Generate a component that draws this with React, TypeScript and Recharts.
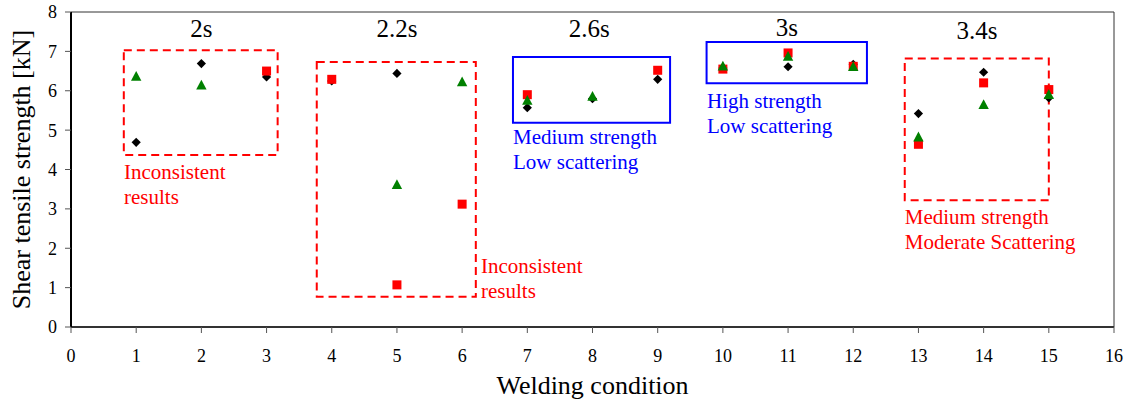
import React from "react"
import {
  ScatterChart,
  Scatter,
  XAxis,
  YAxis,
  ReferenceArea,
  ReferenceDot,
  ReferenceLine,
  Label,
} from "recharts"

document.body.style.margin = "0"

const FONT = "'Liberation Serif', 'Times New Roman', serif"

// welding conditions 1..15, three specimens each (null = not visible / hidden)
const conditions = [1, 2, 3, 4, 5, 6, 7, 8, 9, 10, 11, 12, 13, 14, 15]
const specimenA = [4.69, 6.69, 6.35, 6.25, 6.44, null, 5.57, 5.8, 6.29, 6.58, 6.61, 6.67, 5.42, 6.47, 5.82]
const specimenB = [null, null, 6.5, 6.29, 1.07, 3.12, 5.9, null, 6.52, 6.55, 6.96, 6.62, 4.64, 6.2, 6.03]
const specimenC = [6.35, 6.13, null, null, 3.6, 6.21, 5.74, 5.84, null, 6.61, 6.86, 6.6, 4.81, 5.63, 5.89]

const xTicks = [0, 1, 2, 3, 4, 5, 6, 7, 8, 9, 10, 11, 12, 13, 14, 15, 16]
const yTicks = [0, 1, 2, 3, 4, 5, 6, 7, 8]

// weld time groups written above the points
const groupTitles = ["2s", "2.2s", "2.6s", "3s", "3.4s"]
const groupTitleX = [2, 5, 7.95, 10.98, 13.9]
const groupTitleY = [7.37, 7.37, 7.37, 7.39, 7.31]

// boxes around the groups
const boxX1 = [0.81, 3.77, 6.78, 9.75, 12.79]
const boxX2 = [3.17, 6.21, 9.19, 12.21, 15.0]
const boxY1 = [4.37, 0.77, 5.19, 6.19, 3.22]
const boxY2 = [7.03, 6.73, 6.86, 7.24, 6.82]
const boxColor = ["#ff0000", "#ff0000", "#0000ff", "#0000ff", "#ff0000"]
const boxDashed = [true, true, false, false, true]

// comments next to the boxes
const noteLines = [
  ["Inconsistent", "results"],
  ["Inconsistent", "results"],
  ["Medium strength", "Low scattering"],
  ["High strength", "Low scattering"],
  ["Medium strength", "Moderate Scattering"],
]
const noteX = [0.813, 6.29, 6.78, 9.756, 12.79]
const noteY = [3.75, 1.38, 4.64, 5.555, 2.616]
const noteColor = ["#ff0000", "#ff0000", "#0000ff", "#0000ff", "#ff0000"]

const toPoints = (vals: (number | null)[]) =>
  conditions
    .map((x, i) => ({ x, y: vals[i] }))
    .filter((p) => p.y !== null)

const Diamond = (props: any) => {
  const { cx, cy } = props
  const r = 4.6
  return (
    <polygon
      points={`${cx},${cy - r} ${cx + r},${cy} ${cx},${cy + r} ${cx - r},${cy}`}
      fill="#000000"
    />
  )
}

const Square = (props: any) => {
  const { cx, cy } = props
  return <rect x={cx - 4.5} y={cy - 4.5} width={9} height={9} fill="#ff0000" />
}

const Triangle = (props: any) => {
  const { cx, cy } = props
  return (
    <polygon
      points={`${cx},${cy - 6} ${cx + 5.2},${cy + 3.8} ${cx - 5.2},${cy + 3.8}`}
      fill="#008000"
    />
  )
}

export default function App() {
  return (
    <ScatterChart
      width={1128}
      height={403}
      margin={{ top: 12, right: 14, bottom: 0, left: 0 }}
      style={{ fontFamily: FONT }}
    >
      <XAxis
        type="number"
        dataKey="x"
        domain={[0, 16]}
        ticks={xTicks}
        interval={0}
        height={76}
        tickSize={6}
        tickMargin={16}
        axisLine={{ stroke: "#333", strokeWidth: 2 }}
        tickLine={{ stroke: "#555" }}
        tick={{ fontSize: 18, fill: "#000", fontFamily: FONT }}
      >
        <Label
          content={(p: any) => {
            const vb = p.viewBox
            return (
              <text
                x={vb.x + vb.width / 2}
                y={vb.y + vb.height - 9}
                textAnchor="middle"
                fontSize={26}
                fontFamily={FONT}
                fill="#000"
              >
                Welding condition
              </text>
            )
          }}
        />
      </XAxis>
      <YAxis
        type="number"
        dataKey="y"
        domain={[0, 8]}
        ticks={yTicks}
        interval={0}
        width={71}
        tickSize={6}
        tickMargin={8}
        axisLine={{ stroke: "#000", strokeWidth: 2 }}
        tickLine={{ stroke: "#555" }}
        tick={{ fontSize: 18, fill: "#000", fontFamily: FONT }}
      >
        <Label
          content={(p: any) => {
            const vb = p.viewBox
            const cx = vb.x + 30
            const cy = vb.y + vb.height / 2
            return (
              <text
                x={cx}
                y={cy}
                transform={`rotate(-90, ${cx}, ${cy})`}
                textAnchor="middle"
                fontSize={26}
                fontFamily={FONT}
                fill="#000"
              >
                Shear tensile strength [kN]
              </text>
            )
          }}
        />
      </YAxis>

      <ReferenceLine y={8} stroke="#333" strokeWidth={1} />
      <ReferenceLine x={16} stroke="#333" strokeWidth={1} />

      {boxX1.map((x1, i) => (
        <ReferenceArea
          key={`box-${i}`}
          x1={x1}
          x2={boxX2[i]}
          y1={boxY1[i]}
          y2={boxY2[i]}
          fill="none"
          stroke={boxColor[i]}
          strokeWidth={2}
          strokeDasharray={boxDashed[i] ? "8 5" : undefined}
        />
      ))}

      {groupTitles.map((t, i) => (
        <ReferenceDot
          key={`title-${i}`}
          x={groupTitleX[i]}
          y={groupTitleY[i]}
          r={0}
          fill="none"
          stroke="none"
          label={(p: any) => (
            <text
              x={p.viewBox.x}
              y={p.viewBox.y}
              textAnchor="middle"
              fontSize={25}
              fontFamily={FONT}
              fill="#000"
            >
              {t}
            </text>
          )}
        />
      ))}

      {noteLines.map((lines, i) => (
        <ReferenceDot
          key={`note-${i}`}
          x={noteX[i]}
          y={noteY[i]}
          r={0}
          fill="none"
          stroke="none"
          label={(p: any) => (
            <text fontSize={21} fontFamily={FONT} fill={noteColor[i]}>
              {lines.map((line, j) => (
                <tspan key={j} x={p.viewBox.x} y={p.viewBox.y + j * 25}>
                  {line}
                </tspan>
              ))}
            </text>
          )}
        />
      ))}

      <Scatter name="Specimen 1" data={toPoints(specimenA)} shape={Diamond} isAnimationActive={false} />
      <Scatter name="Specimen 2" data={toPoints(specimenB)} shape={Square} isAnimationActive={false} />
      <Scatter name="Specimen 3" data={toPoints(specimenC)} shape={Triangle} isAnimationActive={false} />
    </ScatterChart>
  )
}
